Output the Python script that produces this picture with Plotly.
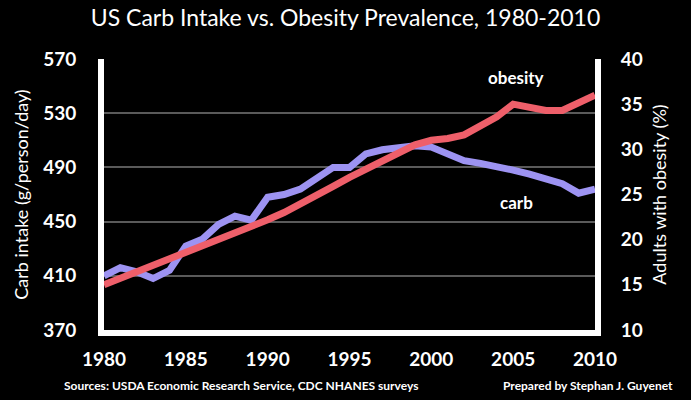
import plotly.graph_objects as go

years = list(range(1980, 2011))
carb_intake = [410, 416, 413, 408, 414, 432, 437, 448, 454, 451,
               468, 470, 474, 482, 490, 490, 500, 503, 505, 506,
               505, 500, 495, 493, 491, 488, 485, 481, 478, 471, 474]
obesity_pct = [15.0, 15.7, 16.4, 17.1, 17.8, 18.6, 19.3, 20.0, 20.7, 21.4,
               22.2, 23.0, 23.9, 24.9, 25.9, 26.9, 27.8, 28.7, 29.6, 30.5,
               31.0, 31.2, 31.6, 32.5, 33.6, 35.0, 34.7, 34.3, 34.3, 35.2, 36.0]
x_ticks = [1980, 1985, 1990, 1995, 2000, 2005, 2010]
left_ticks = [370, 410, 450, 490, 530, 570]
right_ticks = [10, 15, 20, 25, 30, 35, 40]

FONT = "Lato"
W, H = 691, 400
L, R, T, B = 104, 96, 59, 70
PW, PH = W - L - R, H - T - B

def px(xp):
    return (xp - L) / PW

def py(yp):
    return (H - B - yp) / PH

fig = go.Figure()
fig.add_trace(go.Scatter(x=years, y=carb_intake, mode="lines", name="carb",
                         line=dict(color="#9d93f2", width=7), yaxis="y"))
fig.add_trace(go.Scatter(x=years, y=obesity_pct, mode="lines", name="obesity",
                         line=dict(color="#ee5f6a", width=7), yaxis="y2"))

tickfont = dict(family=FONT, size=19, color="white", weight="bold")
fig.update_layout(
    width=W, height=H,
    paper_bgcolor="black", plot_bgcolor="black",
    margin=dict(l=L, r=R, t=T, b=B, pad=0),
    showlegend=False,
    title=dict(text="US Carb Intake vs. Obesity Prevalence, 1980-2010",
               x=0.5, xanchor="center", y=1 - 18 / H, yanchor="middle",
               font=dict(family=FONT, size=23, color="white")),
    xaxis=dict(range=[1980, 2010], tickvals=x_ticks, ticktext=[str(v) for v in x_ticks],
               showgrid=False, zeroline=False, showline=True, linecolor="white",
               linewidth=6, ticks="", ticklabelstandoff=7, tickfont=tickfont),
    yaxis=dict(range=[370, 570], tickvals=left_ticks, showgrid=True,
               gridcolor="#5a5a5a", gridwidth=2, zeroline=False, showline=True,
               linecolor="white", linewidth=6, ticks="", ticklabelstandoff=18,
               tickfont=tickfont,
               title=dict(text="Carb intake (g/person/day)", standoff=12,
                          font=dict(family=FONT, size=18, color="white"))),
    yaxis2=dict(range=[10, 40], tickvals=right_ticks, overlaying="y", side="right",
                showgrid=False, zeroline=False, showline=True, linecolor="white",
                linewidth=6, ticks="", ticklabelstandoff=16,
                tickfont=tickfont,
                title=dict(text="Adults with obesity (%)", standoff=14,
                           font=dict(family=FONT, size=18, color="white"))),
)

fig.add_annotation(x=2005.2, y=38.0, xref="x", yref="y2", text="<b>obesity</b>",
                   showarrow=False, font=dict(family=FONT, size=17, color="white"))
fig.add_annotation(x=2005.2, y=464, xref="x", yref="y", text="<b>carb</b>",
                   showarrow=False, font=dict(family=FONT, size=17, color="white"))
fig.add_annotation(x=px(62), y=py(385), xref="paper", yref="paper",
                   xanchor="left", yanchor="middle", showarrow=False,
                   text="<b>Sources: USDA Economic Research Service, CDC NHANES surveys</b>",
                   font=dict(family=FONT, size=12, color="white"))
fig.add_annotation(x=px(675), y=py(385), xref="paper", yref="paper",
                   xanchor="right", yanchor="middle", showarrow=False,
                   text="<b>Prepared by Stephan J. Guyenet</b>",
                   font=dict(family=FONT, size=12, color="white"))

fig.write_html("out.html")
